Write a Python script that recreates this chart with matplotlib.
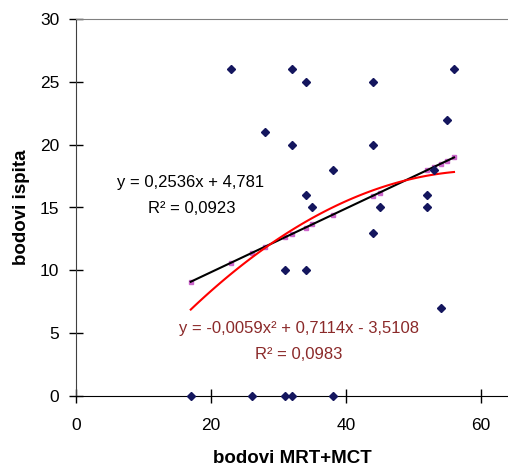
import numpy as np
import matplotlib
matplotlib.use("Agg")
import matplotlib.pyplot as plt

plt.rcParams['font.family'] = ['Liberation Sans', 'DejaVu Sans']

# data
x_vals = [17, 23, 26, 28, 31, 31, 32, 32, 32, 34, 34, 34, 35, 38, 38,
          44, 44, 44, 45, 52, 52, 53, 54, 55, 56]
y_vals = [0, 26, 0, 21, 0, 10, 26, 20, 0, 25, 16, 10, 15, 18, 0,
          25, 20, 13, 15, 16, 15, 18, 7, 22, 26]

lin_coef = [0.2536, 4.781]            # slope, intercept
quad_coef = [-0.0059, 0.7114, -3.5108]  # a, b, c

lin_label = "y = 0,2536x + 4,781"
lin_r2 = "R² = 0,0923"
quad_label = "y = -0,0059x² + 0,7114x - 3,5108"
quad_r2 = "R² = 0,0983"

x_ticks = [0, 20, 40, 60]
y_ticks = [0, 5, 10, 15, 20, 25, 30]

W, H = 508, 466
fig = plt.figure(figsize=(W / 100, H / 100), dpi=100)
ax = fig.add_axes([76 / W, (H - 396) / H, (W - 76) / W, (396 - 19) / H])

xs = np.array(x_vals, dtype=float)
ux = np.unique(xs)
pred = np.polyval(lin_coef, ux)

# fitted values (pink squares)
ax.plot(ux, pred, linestyle='none', marker='s', markersize=3.5,
        color='#CC66CC', zorder=3)

# linear trendline
xl = np.linspace(xs.min(), xs.max(), 100)
ax.plot(xl, np.polyval(lin_coef, xl), color='black', lw=1.5, zorder=4)
# polynomial trendline
ax.plot(xl, np.polyval(quad_coef, xl), color='#FF0000', lw=1.5, zorder=4)

# data points
ax.plot(x_vals, y_vals, linestyle='none', marker='D', markersize=4.5,
        color='#14165E', zorder=5, clip_on=False)

ax.text(16.9, 16.95, lin_label, ha='center', va='center', fontsize=12, color='black')
ax.text(17.1, 14.96, lin_r2, ha='center', va='center', fontsize=12, color='black')
ax.text(33.0, 5.4, quad_label, ha='center', va='center', fontsize=12, color='#8B2A2A')
ax.text(33.0, 3.34, quad_r2, ha='center', va='center', fontsize=12, color='#8B2A2A')

ax.set_xlim(0, 64)
ax.set_ylim(0, 30)
ax.set_xticks(x_ticks)
ax.set_yticks(y_ticks)
ax.tick_params(direction='inout', length=10, width=1, labelsize=12.5, colors='black')
ax.tick_params(axis='x', pad=11)
ax.tick_params(axis='y', pad=7)
ax.spines['right'].set_visible(False)
ax.spines['top'].set_color('#808080')
ax.spines['left'].set_color('#404040')
ax.spines['bottom'].set_color('black')
ax.set_xlabel('bodovi MRT+MCT', fontsize=13.5, fontweight='bold', labelpad=12)
ax.set_ylabel('bodovi ispita', fontsize=13.5, fontweight='bold', labelpad=7)

fig.savefig('out.png', dpi=100)
